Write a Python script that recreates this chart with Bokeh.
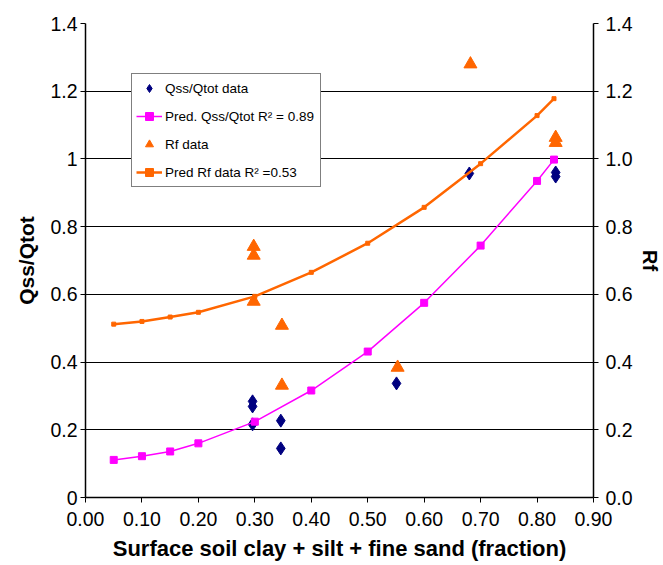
from bokeh.plotting import figure
from bokeh.models import (Range1d, LinearAxis, FixedTicker, NumeralTickFormatter,
                          Legend, LegendItem)
from bokeh.embed import file_html
from bokeh.resources import INLINE

# Observed data
qss_x = [0.296, 0.296, 0.296, 0.346, 0.346, 0.551, 0.680, 0.833, 0.833]
qss_y = [0.284, 0.269, 0.216, 0.227, 0.145, 0.337, 0.957, 0.960, 0.948]

rf_x = [0.298, 0.298, 0.298, 0.348, 0.348, 0.553, 0.682, 0.833, 0.833]
rf_y = [0.741, 0.715, 0.579, 0.508, 0.331, 0.384, 1.280, 1.063, 1.048]

# Predicted curves
pred_x = [0.05, 0.10, 0.15, 0.20, 0.30, 0.40, 0.50, 0.60, 0.70, 0.80, 0.83]
pred_qss = [0.111, 0.122, 0.136, 0.160, 0.224, 0.316, 0.431, 0.575, 0.744, 0.935, 0.998]
pred_rf = [0.512, 0.520, 0.533, 0.547, 0.594, 0.665, 0.751, 0.857, 0.986, 1.128, 1.178]

x_ticks = [0.0, 0.1, 0.2, 0.3, 0.4, 0.5, 0.6, 0.7, 0.8, 0.9]
y_ticks = [0.0, 0.2, 0.4, 0.6, 0.8, 1.0, 1.2, 1.4]

FONT = "Liberation Sans"
NAVY = "#000080"
MAGENTA = "#FF00FF"
ORANGE = "#FF6600"

p = figure(width=663, height=565, output_backend="svg", toolbar_location=None,
           x_range=Range1d(0, 0.9), y_range=Range1d(0, 1.4),
           min_border_left=85, min_border_right=65, min_border_top=23,
           min_border_bottom=68)
p.extra_y_ranges = {"rf": Range1d(0, 1.4)}
p.outline_line_color = None
p.background_fill_color = "white"

# grid
p.xgrid.visible = False
p.ygrid.ticker = FixedTicker(ticks=y_ticks)
p.ygrid.grid_line_color = "black"
p.ygrid.grid_line_width = 1

# axes
xa = p.xaxis[0]
xa.ticker = FixedTicker(ticks=x_ticks)
xa.formatter = NumeralTickFormatter(format="0.00")
xa.axis_label = "Surface soil clay + silt + fine sand (fraction)"

ya = p.yaxis[0]
ya.ticker = FixedTicker(ticks=y_ticks)
ya.formatter = NumeralTickFormatter(format="0.[0]")
ya.axis_label = "Qss/Qtot"

ra = LinearAxis(y_range_name="rf", axis_label="Rf")
ra.ticker = FixedTicker(ticks=y_ticks)
ra.formatter = NumeralTickFormatter(format="0.0")
p.add_layout(ra, "right")

for ax in (xa, ya, ra):
    ax.axis_line_color = "black"
    ax.axis_line_width = 1.5
    ax.major_tick_line_color = "black"
    ax.major_tick_out = 5
    ax.major_tick_in = 0
    ax.minor_tick_line_color = None
    ax.major_label_text_font = FONT
    ax.major_label_text_font_size = "19.5px"
    ax.major_label_text_color = "black"
    ax.axis_label_text_font = FONT
    ax.axis_label_text_font_size = "21px"
    ax.axis_label_text_font_style = "bold"
    ax.axis_label_text_color = "black"
xa.axis_label_text_font_size = "22px"
xa.major_label_standoff = 9
xa.axis_label_standoff = 7
ya.major_label_standoff = 3
ya.axis_label_standoff = 9
ra.major_label_standoff = 7
ra.axis_label_standoff = 3
ra.axis_label_text_font_size = "20px"

# glyphs
r_qss = p.scatter(qss_x, qss_y, marker="diamond", size=13, color=NAVY)
l_pq = p.line(pred_x, pred_qss, line_color=MAGENTA, line_width=1.5)
s_pq = p.scatter(pred_x, pred_qss, marker="square", size=7, color=MAGENTA)
r_rf = p.scatter(rf_x, rf_y, marker="triangle", size=13, color=ORANGE,
                 y_range_name="rf")
l_pr = p.line(pred_x, pred_rf, line_color=ORANGE, line_width=2.5,
              y_range_name="rf")
s_pr = p.scatter(pred_x, pred_rf, marker="square", size=4, color=ORANGE,
                 y_range_name="rf")

legend = Legend(items=[
    LegendItem(label="Qss/Qtot data", renderers=[r_qss]),
    LegendItem(label="Pred. Qss/Qtot R² = 0.89", renderers=[l_pq, s_pq]),
    LegendItem(label="Rf data", renderers=[r_rf]),
    LegendItem(label="Pred Rf data R² =0.53", renderers=[l_pr, s_pr]),
], location=(46, 310))
legend.label_text_font = FONT
legend.label_text_font_size = "13.5px"
legend.label_text_color = "black"
legend.glyph_width = 26
legend.glyph_height = 20
legend.label_height = 20
legend.label_width = 151
legend.label_standoff = 3
legend.spacing = 8
legend.padding = 4
legend.margin = 0
legend.border_line_color = "black"
legend.border_line_width = 1
legend.background_fill_color = "white"
legend.background_fill_alpha = 1
p.add_layout(legend, "center")

open("out.html", "w").write(file_html(p, INLINE))
